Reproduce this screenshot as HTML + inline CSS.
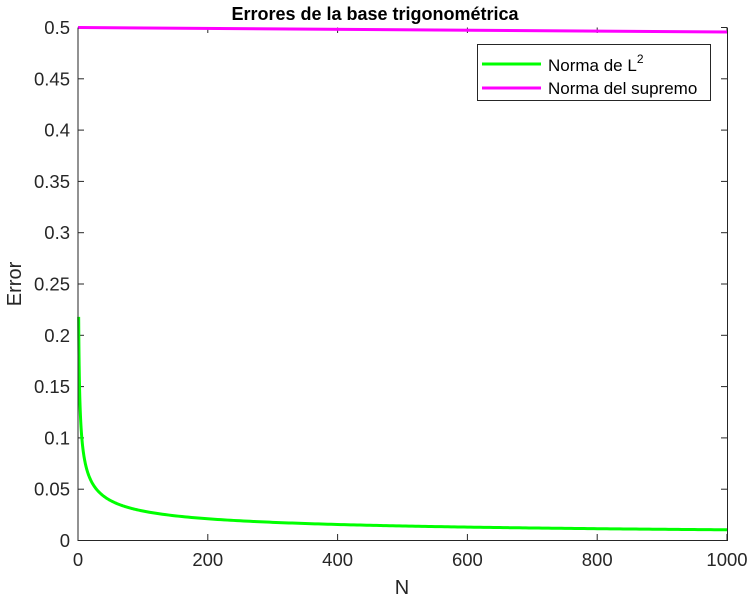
<!DOCTYPE html>
<html><head><meta charset="utf-8"><style>body{margin:0;background:#fff}svg{display:block}text{font-family:"Liberation Sans",sans-serif;fill:#262626}</style></head><body>
<svg width="750" height="600" xmlns="http://www.w3.org/2000/svg">
<rect width="750" height="600" fill="#fff"/>
<g id="ticks" stroke="#262626" stroke-width="1"></g>
<polyline id="g" fill="none" stroke="#00ff00" stroke-width="3"/>
<line x1="78" y1="27.5" x2="727" y2="32" stroke="#ff00ff" stroke-width="3"/>
<path d="M78 27.5V540.5H727.5V27.5" fill="none" stroke="#262626" stroke-width="1"/>
<g id="lbl" font-size="18.5" text-anchor="end"></g>
<text x="375" y="20" font-size="18" font-weight="bold" text-anchor="middle" style="fill:#000">Errores de la base trigonométrica</text>
<text x="402" y="594" font-size="20" text-anchor="middle">N</text>
<text transform="translate(21,284) rotate(-90)" font-size="20" text-anchor="middle">Error</text>
<rect x="477.5" y="44.5" width="233" height="56" fill="#fff" stroke="#262626"/>
<line x1="482" y1="64" x2="541" y2="64" stroke="#00ff00" stroke-width="3"/>
<line x1="482" y1="88" x2="541" y2="88" stroke="#ff00ff" stroke-width="3"/>
<text x="548" y="71" font-size="17" style="fill:#000">Norma de L<tspan dy="-8" font-size="12">2</tspan></text>
<text x="548" y="94" font-size="17" style="fill:#000">Norma del supremo</text>
</svg>
<script>
var ns="http://www.w3.org/2000/svg",t=document.getElementById('ticks'),l=document.getElementById('lbl');
function X(n){return 78+n*0.649}function Y(v){return 540.5-v*1026}
for(var i=0;i<=10;i++){var y=Y(i*0.05);var a=document.createElementNS(ns,'line');a.setAttribute('x1',78);a.setAttribute('x2',84);a.setAttribute('y1',y);a.setAttribute('y2',y);t.appendChild(a);
var b=document.createElementNS(ns,'line');b.setAttribute('x1',721);b.setAttribute('x2',727);b.setAttribute('y1',y);b.setAttribute('y2',y);t.appendChild(b);
var s=document.createElementNS(ns,'text');s.setAttribute('x',70);s.setAttribute('y',y+6.5);s.textContent=String(+(i*0.05).toFixed(2));l.appendChild(s);}
for(var i=0;i<=5;i++){var x=X(i*200);var a=document.createElementNS(ns,'line');a.setAttribute('x1',x);a.setAttribute('x2',x);a.setAttribute('y1',534);a.setAttribute('y2',540);t.appendChild(a);
var b=document.createElementNS(ns,'line');b.setAttribute('x1',x);b.setAttribute('x2',x);b.setAttribute('y1',27.5);b.setAttribute('y2',33);t.appendChild(b);
var s=document.createElementNS(ns,'text');s.setAttribute('x',x);s.setAttribute('y',566);s.setAttribute('text-anchor','middle');s.textContent=i*200;l.appendChild(s);}
var p=[];for(var n=1;n<=1000;n+=(n<20?0.25:(n<100?1:5))){p.push(X(n).toFixed(2)+','+Y(0.218*Math.pow(n,-0.44)).toFixed(2));}
document.getElementById('g').setAttribute('points',p.join(' '));
</script>
</body></html>
